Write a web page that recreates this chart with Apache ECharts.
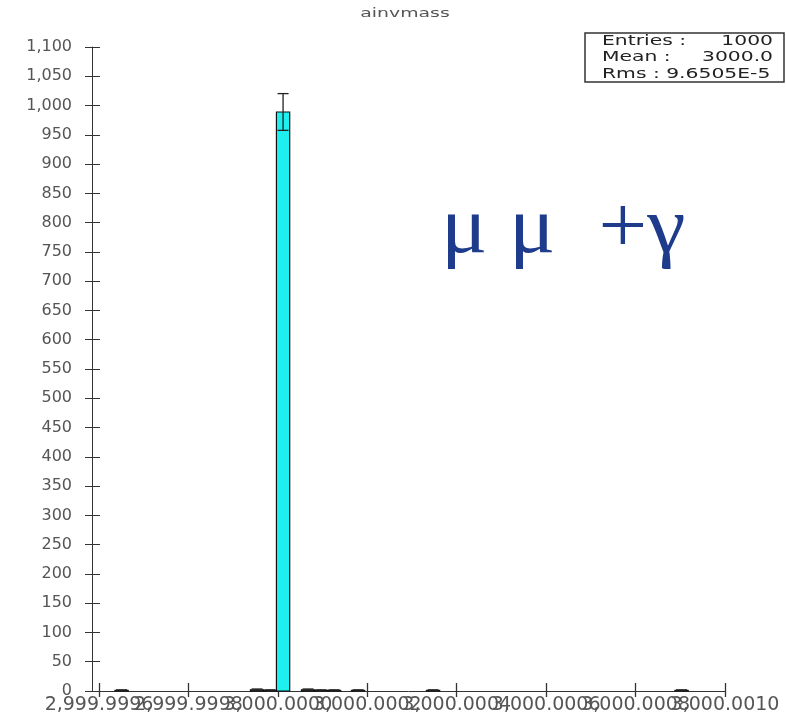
<!DOCTYPE html>
<html>
<head>
<meta charset="utf-8">
<title>ainvmass</title>
<script src="https://cdn.jsdelivr.net/npm/echarts@6.0.0/dist/echarts.min.js"></script>
<style>
html, body { margin: 0; padding: 0; background: #fff; }
#chart { width: 786px; height: 716px; }
</style>
</head>
<body>
<div id="chart"></div>
<script>
// histogram bins (centre, entries, error)
var binCenters = [2999.99965045, 2999.99995348, 2999.99998256, 3000.00001163, 3000.00006754,
                  3000.00009661, 3000.00012569, 3000.00017936, 3000.00034709, 3000.00090284];
var binCounts = [1, 2, 1, 989, 2, 1, 1, 1, 1, 1];
var binErrors = [1, 1.4, 1, 31.4, 1.4, 1, 1, 1, 1, 1];
var binWidth = 0.0000297;

var xTicks = [2999.9996, 2999.9998, 3000.0000, 3000.0002, 3000.0004, 3000.0006, 3000.0008, 3000.0010];
var xLabels = ['2,999.9996', '2,999.9998', '3,000.0000', '3,000.0002', '3,000.0004', '3,000.0006', '3,000.0008', '3,000.0010'];
var xMin = 2999.9995843, xMax = 3000.0010;
var yMin = 0, yMax = 1100, yStep = 50;

var histTitle = 'ainvmass';
var statsNames = ['Entries :', 'Mean :', 'Rms : 9.6505E-5'];
var statsValues = ['1000', '3000.0', ''];
var note = 'μ μ  +γ';

var barData = [], errData = [];
for (var i = 0; i < binCenters.length; i++) {
    barData.push([binCenters[i], binCounts[i]]);
    errData.push([binCenters[i], binCounts[i], binErrors[i]]);
}

// labels overlap like the original, so they are split over two axes
// (otherwise the library drops the ones next to the ends)
var evenTicks = xTicks.filter(function (v, i) { return i % 2 === 0; });
var oddTicks = xTicks.filter(function (v, i) { return i % 2 === 1; });

function labelFor(v) {
    var best = 0;
    for (var i = 1; i < xTicks.length; i++) {
        if (Math.abs(xTicks[i] - v) < Math.abs(xTicks[best] - v)) best = i;
    }
    return xLabels[best];
}

function renderBar(params, api) {
    var c = api.value(0), n = api.value(1);
    var p0 = api.coord([c - binWidth / 2, n]);
    var p1 = api.coord([c + binWidth / 2, 0]);
    return {
        type: 'rect',
        shape: { x: p0[0], y: p0[1], width: p1[0] - p0[0], height: p1[1] - p0[1] },
        style: { fill: '#1ef0f0', stroke: '#111', lineWidth: 1.2 }
    };
}

function renderErr(params, api) {
    var c = api.value(0), n = api.value(1), e = api.value(2);
    var hi = api.coord([c, n + e]);
    var lo = api.coord([c, n - e]);
    var cap = 5.5;
    var st = { stroke: '#222', lineWidth: 1.3 };
    return {
        type: 'group',
        children: [
            { type: 'line', shape: { x1: hi[0], y1: hi[1], x2: lo[0], y2: lo[1] }, style: st },
            { type: 'line', shape: { x1: hi[0] - cap, y1: hi[1], x2: hi[0] + cap, y2: hi[1] }, style: st },
            { type: 'line', shape: { x1: lo[0] - cap, y1: lo[1], x2: lo[0] + cap, y2: lo[1] }, style: st }
        ]
    };
}

var graphics = [{
    type: 'text', x: 405, y: 14, scaleX: 1.45,
    style: { text: histTitle, font: '13px "DejaVu Sans"', fill: '#555', align: 'center', verticalAlign: 'middle' }
}, {
    type: 'rect', shape: { x: 585, y: 33, width: 199, height: 49 },
    style: { fill: '#fff', stroke: '#333', lineWidth: 1.5 }, z: 10
}, {
    type: 'text', x: 441, y: 231, scaleX: 1.08, z: 10,
    style: { text: note, font: '80px "Liberation Serif"', fill: '#1f3c8c', align: 'left', verticalAlign: 'middle' }
}];
var statsY = [41, 57, 74];
for (var k = 0; k < statsNames.length; k++) {
    graphics.push({
        type: 'text', x: 602, y: statsY[k], scaleX: 1.45, z: 11,
        style: { text: statsNames[k], font: '14px "DejaVu Sans"', fill: '#222', align: 'left', verticalAlign: 'middle' }
    });
    if (statsValues[k]) {
        graphics.push({
            type: 'text', x: 773, y: statsY[k], scaleX: 1.45, z: 11,
            style: { text: statsValues[k], font: '14px "DejaVu Sans"', fill: '#222', align: 'right', verticalAlign: 'middle' }
        });
    }
}

var xLabelStyle = {
    show: true, formatter: labelFor, margin: 5,
    showMinLabel: true, showMaxLabel: true, hideOverlap: false,
    fontFamily: 'DejaVu Sans', fontSize: 19, color: '#555'
};

var myChart = echarts.init(document.getElementById('chart'));
var option = {
    animation: false,
    backgroundColor: '#fff',
    grid: { left: 92, right: 61, top: 47, bottom: 25, containLabel: false },
    xAxis: [{
        type: 'value', position: 'bottom', min: xMin, max: xMax,
        axisLine: { show: true, lineStyle: { color: '#333', width: 1 } },
        axisTick: { show: true, length: 6, customValues: xTicks, lineStyle: { color: '#333', width: 1.3 } },
        axisLabel: Object.assign({ customValues: evenTicks }, xLabelStyle),
        splitLine: { show: false }
    }, {
        type: 'value', position: 'bottom', min: xMin, max: xMax,
        axisLine: { show: false },
        axisTick: { show: true, inside: true, length: 8, customValues: xTicks, lineStyle: { color: '#333', width: 1.3 } },
        axisLabel: Object.assign({ customValues: oddTicks }, xLabelStyle),
        splitLine: { show: false }
    }],
    yAxis: [{
        type: 'value', position: 'left', min: yMin, max: yMax, interval: yStep,
        axisLine: { show: true, lineStyle: { color: '#333', width: 1 } },
        axisTick: { show: true, length: 7, lineStyle: { color: '#333' } },
        axisLabel: {
            margin: 20, fontFamily: 'DejaVu Sans', fontSize: 16, color: '#555',
            padding: [7, 0, 0, 0],
            formatter: function (v) { return echarts.format.addCommas(v); }
        },
        splitLine: { show: false }
    }, {
        type: 'value', position: 'left', min: yMin, max: yMax, interval: yStep,
        axisLine: { show: false },
        axisTick: { show: true, inside: true, length: 8, lineStyle: { color: '#333' } },
        axisLabel: { show: false },
        splitLine: { show: false }
    }],
    series: [{
        type: 'custom', name: 'hist', xAxisIndex: 0, yAxisIndex: 0,
        renderItem: renderBar, data: barData, clip: false,
        encode: { x: 0, y: 1 }
    }, {
        type: 'custom', name: 'err', xAxisIndex: 0, yAxisIndex: 0,
        renderItem: renderErr, data: errData, clip: false,
        encode: { x: 0, y: [1, 2] }
    }],
    graphic: graphics
};
myChart.setOption(option);
</script>
</body>
</html>
